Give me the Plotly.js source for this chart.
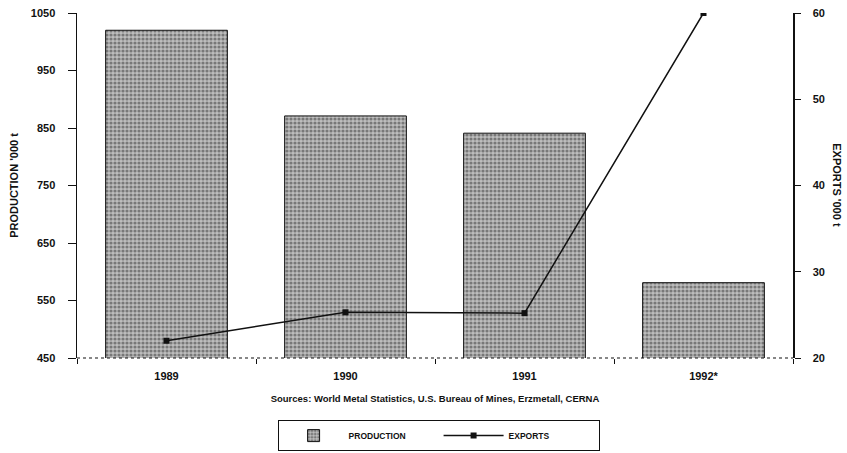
<!DOCTYPE html>
<html><head><meta charset="utf-8">
<script src="https://cdn.plot.ly/plotly-3.0.1.min.js"></script>
<style>body{margin:0;background:#fff}#chart{width:847px;height:453px}</style>
</head><body><div id="chart"></div>
<script>
const years = ["1989", "1990", "1991", "1992*"];
const production = [1020, 871, 841, 581];
const exports = [22, 25.3, 25.2, 60];
const leftTicks = [450, 550, 650, 750, 850, 950, 1050];
const rightTicks = [20, 30, 40, 50, 60];

const F = {family: "Liberation Sans, Arial, sans-serif", size: 11, color: "#111", weight: "bold"};

const traces = [
  {type: "bar", x: years, y: production, name: "PRODUCTION", yaxis: "y",
   marker: {color: "#9a9a9a", line: {color: "#111", width: 1},
            pattern: {shape: ".", size: 4, solidity: 0.5, fgcolor: "#333", bgcolor: "#bdbdbd", fillmode: "overlay"}}},
  {type: "scatter", mode: "lines+markers", x: years, y: exports, name: "EXPORTS", yaxis: "y2",
   line: {color: "#111", width: 1.5}, marker: {symbol: "square", size: 6, color: "#111"}}
];

const layout = {
  width: 847, height: 453,
  margin: {l: 77, r: 54, t: 13, b: 95, autoexpand: false},
  paper_bgcolor: "#fff", plot_bgcolor: "#fff",
  font: F,
  bargap: 0.32,
  showlegend: true,
  legend: {orientation: "h", x: 0.505, xanchor: "center", y: -0.18, yanchor: "top",
           bordercolor: "#111", borderwidth: 1, font: {family: F.family, size: 8.5, color: "#111"},
           itemwidth: 60, entrywidth: 85, traceorder: "normal", tracegroupgap: 0},
  xaxis: {type: "category", showline: false, showgrid: false, zeroline: false, automargin: false,
          ticks: "outside", tickson: "boundaries", ticklen: 5, tickcolor: "#111",
          tickfont: F, ticklabelstandoff: 10,
          title: {text: "Sources: World Metal Statistics, U.S. Bureau of Mines, Erzmetall, CERNA",
                  font: {family: F.family, size: 9.5, color: "#111", weight: "bold"}, standoff: 14}},
  yaxis: {range: [450, 1050], tickvals: leftTicks, showline: true, linecolor: "#111", linewidth: 1.5,
          showgrid: false, zeroline: false, ticks: "outside", ticklen: 8, tickcolor: "#111", automargin: false,
          tickfont: F, ticklabelstandoff: 10,
          title: {text: "PRODUCTION '000 t", font: {family: F.family, size: 11, color: "#111", weight: "bold"}, standoff: 10}},
  yaxis2: {range: [20, 60], tickvals: rightTicks, overlaying: "y", side: "right", automargin: false,
           showline: true, linecolor: "#111", linewidth: 1.5, showgrid: false, zeroline: false,
           ticks: "outside", ticklen: 6, tickcolor: "#111", tickfont: F, ticklabelstandoff: 10},
  shapes: [{type: "line", xref: "paper", yref: "paper", x0: 0, x1: 1, y0: 0, y1: 0,
            line: {color: "#111", width: 1.2, dash: "dot"}}],
  annotations: [{text: "EXPORTS '000 t", xref: "paper", yref: "paper", x: 1.073, y: 0.5,
                 textangle: 90, showarrow: false,
                 font: {family: F.family, size: 11, color: "#111", weight: "bold"}}]
};

Plotly.newPlot("chart", traces, layout, {displayModeBar: false, staticPlot: true});
</script></body></html>
